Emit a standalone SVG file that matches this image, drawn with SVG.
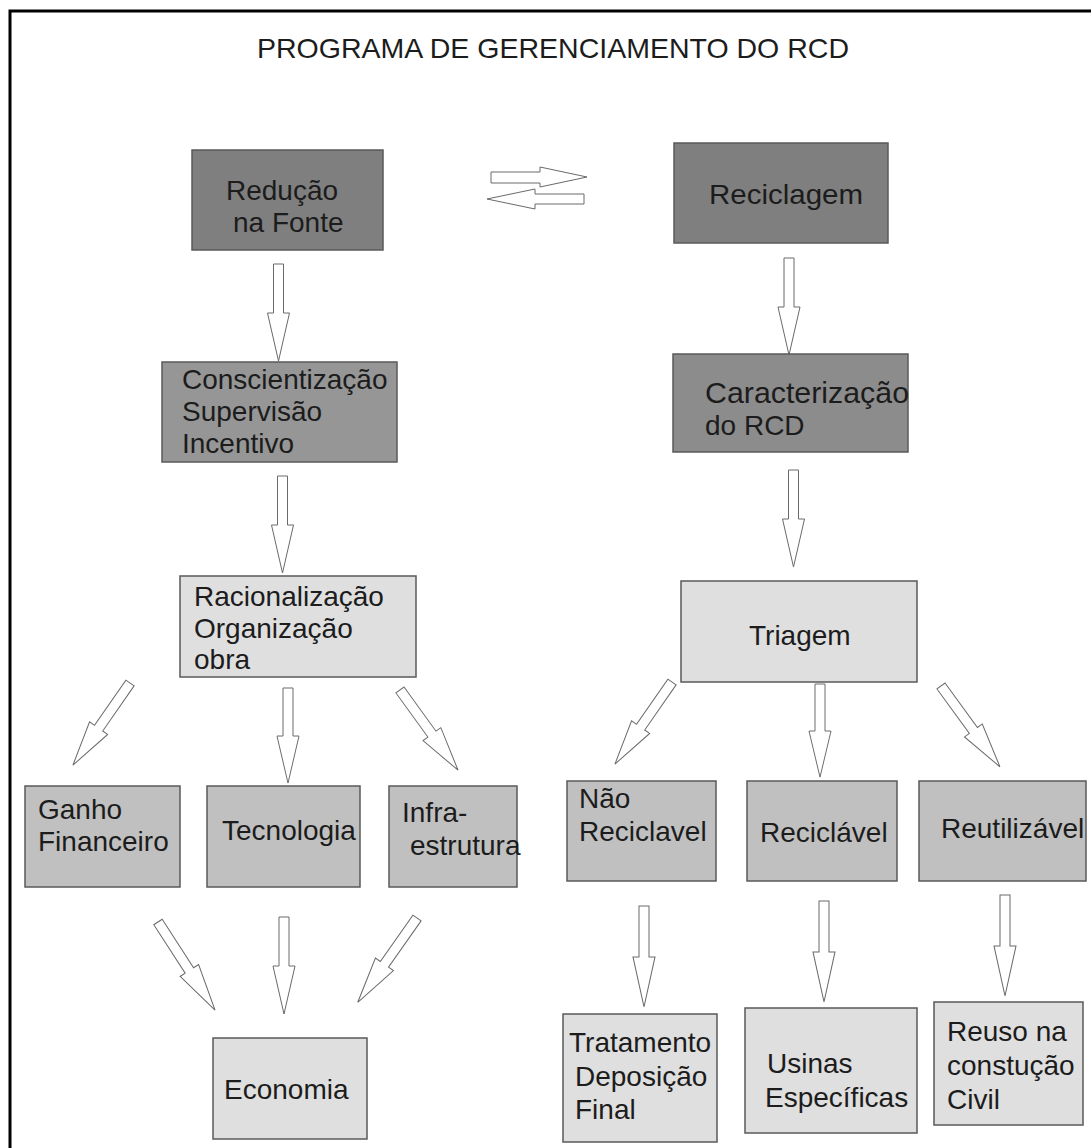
<svg xmlns="http://www.w3.org/2000/svg" width="1091" height="1148" viewBox="0 0 1091 1148">
<style>
  text { font-family: "Liberation Sans", Arial, sans-serif; font-size: 28px; fill: #1c1c1c; }
  .box { stroke: #5a5a5a; stroke-width: 1.5; }
  .dark { fill: #7f7f7f; }
  .mid { fill: #969696; }
  .mid2 { fill: #8c8c8c; }
  .gray { fill: #c0c0c0; }
  .light { fill: #dfdfdf; }
  .arrow { fill: #ffffff; stroke: #6a6a6a; stroke-width: 1; }
</style>
<defs>
  <polygon id="av" points="-5,0 5,0 5,49 11,49 0,97 -11,49 -5,49"/>
  <polygon id="ad" points="0,-5 55,-5 55,-11 100,0 55,11 55,5 0,5"/>
</defs>
<rect x="0" y="0" width="1091" height="1148" fill="#ffffff"/>
<path d="M1093,11 H10 V1150" fill="none" stroke="#000" stroke-width="3"/>
<text x="257" y="58" textLength="592" lengthAdjust="spacingAndGlyphs" style="font-size:28.5px">PROGRAMA DE GERENCIAMENTO DO RCD</text>

<g id="connectors">
  <polygon class="arrow" points="491,172 540,172 540,167 587,177 540,187 540,183 491,183"/>
  <polygon class="arrow" points="584,194 535,194 535,189 487,199 535,209 535,204 584,204"/>
  <use href="#av" class="arrow" transform="translate(278.5,264)"/>
  <use href="#av" class="arrow" transform="translate(282.5,476)"/>
  <use href="#av" class="arrow" transform="translate(789,258)"/>
  <use href="#av" class="arrow" transform="translate(793.5,470)"/>
  <use href="#av" class="arrow" transform="translate(820,684) scale(1,0.96)"/>
  <use href="#av" class="arrow" transform="translate(288,688) scale(1,0.98)"/>
  <use href="#av" class="arrow" transform="translate(284,917)"/>
  <use href="#av" class="arrow" transform="translate(644,906) scale(1,1.04)"/>
  <use href="#av" class="arrow" transform="translate(824,901) scale(1,1.04)"/>
  <use href="#av" class="arrow" transform="translate(1005,895) scale(1,1.04)"/>
  <use href="#ad" class="arrow" transform="translate(130,683) rotate(124.8)"/>
  <use href="#ad" class="arrow" transform="translate(400,690) rotate(54.1) scale(0.99,1)"/>
  <use href="#ad" class="arrow" transform="translate(672,682) rotate(124.8)"/>
  <use href="#ad" class="arrow" transform="translate(941,686) rotate(53.9)"/>
  <use href="#ad" class="arrow" transform="translate(158,922) rotate(57.1) scale(1.05,1)"/>
  <use href="#ad" class="arrow" transform="translate(417,918) rotate(125.1) scale(1.03,1)"/>
</g>

<g id="n-reducao">
  <rect class="box dark" x="192" y="150" width="191" height="100"/>
  <text x="226" y="200">Redução</text>
  <text x="233" y="232">na Fonte</text>
</g>
<g id="n-reciclagem">
  <rect class="box dark" x="674" y="143" width="214" height="100"/>
  <text x="709" y="204" textLength="154" lengthAdjust="spacingAndGlyphs">Reciclagem</text>
</g>
<g id="n-conscientizacao">
  <rect class="box mid" x="162" y="362" width="235" height="100"/>
  <text x="182" y="389">Conscientização</text>
  <text x="182" y="421">Supervisão</text>
  <text x="182" y="453">Incentivo</text>
</g>
<g id="n-caracterizacao">
  <rect class="box mid2" x="673" y="354" width="235" height="98"/>
  <text x="705" y="403" textLength="204" lengthAdjust="spacingAndGlyphs" style="font-size:29px">Caracterização</text>
  <text x="705" y="435">do RCD</text>
</g>
<g id="n-racionalizacao">
  <rect class="box light" x="180" y="576" width="236" height="101"/>
  <text x="194" y="606">Racionalização</text>
  <text x="194" y="638">Organização</text>
  <text x="194" y="669">obra</text>
</g>
<g id="n-triagem">
  <rect class="box light" x="681" y="581" width="236" height="101"/>
  <text x="749" y="645">Triagem</text>
</g>
<g id="n-ganho">
  <rect class="box gray" x="25" y="786" width="155" height="101"/>
  <text x="38" y="819">Ganho</text>
  <text x="38" y="851">Financeiro</text>
</g>
<g id="n-tecnologia">
  <rect class="box gray" x="207" y="786" width="153" height="101"/>
  <text x="222" y="840">Tecnologia</text>
</g>
<g id="n-infra">
  <rect class="box gray" x="389" y="786" width="128" height="101"/>
  <text x="402" y="822">Infra-</text>
  <text x="410" y="855">estrutura</text>
</g>
<g id="n-nao-reciclavel">
  <rect class="box gray" x="567" y="781" width="149" height="100"/>
  <text x="579" y="808">Não</text>
  <text x="579" y="841">Reciclavel</text>
</g>
<g id="n-reciclavel">
  <rect class="box gray" x="747" y="781" width="150" height="100"/>
  <text x="760" y="842">Reciclável</text>
</g>
<g id="n-reutilizavel">
  <rect class="box gray" x="919" y="781" width="167" height="100"/>
  <text x="941" y="838">Reutilizável</text>
</g>
<g id="n-economia">
  <rect class="box light" x="213" y="1038" width="154" height="101"/>
  <text x="224" y="1099">Economia</text>
</g>
<g id="n-tratamento">
  <rect class="box light" x="563" y="1014" width="154" height="128"/>
  <text x="569" y="1052">Tratamento</text>
  <text x="575" y="1086">Deposição</text>
  <text x="575" y="1119">Final</text>
</g>
<g id="n-usinas">
  <rect class="box light" x="745" y="1008" width="172" height="125"/>
  <text x="767" y="1073">Usinas</text>
  <text x="765" y="1107">Específicas</text>
</g>
<g id="n-reuso">
  <rect class="box light" x="934" y="1002" width="149" height="123"/>
  <text x="947" y="1041">Reuso na</text>
  <text x="947" y="1075">constução</text>
  <text x="947" y="1109">Civil</text>
</g>
</svg>
